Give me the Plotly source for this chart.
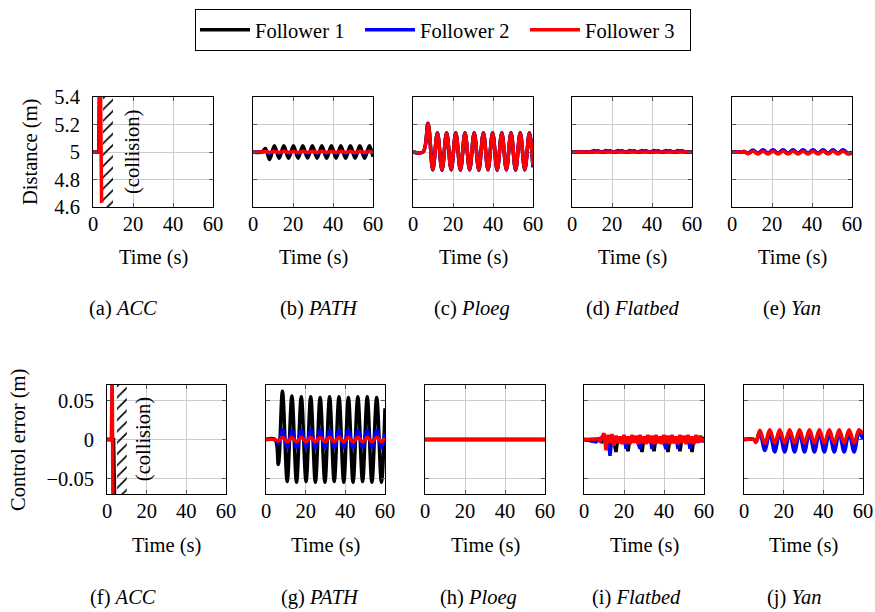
import plotly.graph_objects as go

W, H = 875, 612
FONT = "Liberation Serif, Times New Roman, serif"
FS = 20.5

names = ["Follower 1", "Follower 2", "Follower 3"]
colors = ["#000000", "#0000ff", "#ff0000"]

x_ticks = [0, 20, 40, 60]
dist_ticks = [4.6, 4.8, 5.0, 5.2, 5.4]
err_ticks = [-0.05, 0, 0.05]
collision_start, collision_end = 5, 10

# ---------------- ACC ----------------
acc_dist_t = [[0, 3.0, 3.6], [0, 2.9, 3.4], [0, 1.5, 3.0, 3.6, 4.3]]
acc_dist_v = [[5.0, 5.0, 5.7], [5.0, 5.0, 5.8], [5.0, 5.0, 5.0, 5.7, 4.63]]
acc_err_t = [[0, 3.3, 3.9], [0, 2.4, 2.7], [0, 2.2, 2.6, 3.0]]
acc_err_v = [[0, 0, -0.09], [0, 0, 0.09], [0, 0.0, 0.09, -0.09]]

# ---------------- PATH ----------------
t_path = [0, 4.5, 6.2, 8.3, 10.7, 13.05, 15.4, 17.8, 20.2, 22.55, 24.9, 27.3, 29.7,
          32.05, 34.4, 36.8, 39.2, 41.55, 43.9, 46.3, 48.7, 51.05, 53.4, 55.8, 58.2, 60.0]
path_dist_f1 = [5.0, 5.0, 5.025, 4.945, 5.046, 4.955, 5.045, 4.955, 5.046, 4.955, 5.045, 4.956, 5.045,
                4.955, 5.046, 4.955, 5.045, 4.955, 5.046, 4.955, 5.045, 4.956, 5.045, 4.955, 5.045, 4.965]
path_dist_f2 = [5.0, 5.0, 5.005, 4.99, 5.01, 4.99, 5.01, 4.99, 5.01, 4.99, 5.01, 4.99, 5.01,
                4.99, 5.01, 4.99, 5.01, 4.99, 5.01, 4.99, 5.01, 4.99, 5.01, 4.99, 5.01, 4.993]
path_dist_f3 = [5.0, 5.0, 5.002, 4.997, 5.003, 4.997, 5.003, 4.997, 5.003, 4.997, 5.003, 4.997, 5.003,
                4.997, 5.003, 4.997, 5.003, 4.997, 5.003, 4.997, 5.003, 4.997, 5.003, 4.997, 5.003, 4.998]
path_err_f1 = [0, 0, -0.032, 0.062, -0.054, 0.056, -0.055, 0.055, -0.054, 0.055, -0.055, 0.054, -0.055,
               0.055, -0.054, 0.055, -0.055, 0.054, -0.055, 0.055, -0.054, 0.055, -0.055, 0.054, -0.055, 0.04]
path_err_f2 = [0, 0, -0.006, 0.0125, -0.0105, 0.012, -0.0105, 0.012, -0.0105, 0.012, -0.0105, 0.012, -0.0105,
               0.012, -0.0105, 0.012, -0.0105, 0.012, -0.0105, 0.012, -0.0105, 0.012, -0.0105, 0.012, -0.0105, 0.008]
path_err_f3 = [0, 0, -0.002, 0.003, -0.003, 0.003, -0.003, 0.003, -0.003, 0.003, -0.003, 0.003, -0.003,
               0.003, -0.003, 0.003, -0.003, 0.003, -0.003, 0.003, -0.003, 0.003, -0.003, 0.003, -0.003, 0.002]

# ---------------- Ploeg ----------------
t_ploeg = [0, 5.0, 7.5, 9.9, 12.2, 14.5, 16.8, 19.1, 21.4, 23.7, 26.0, 28.3, 30.6,
           32.9, 35.2, 37.5, 39.8, 42.1, 44.4, 46.7, 49.0, 51.3, 53.6, 55.9, 58.2, 60.0]
ploeg_dist_f1 = [5.0, 5.0, 5.21, 4.87, 5.14, 4.868, 5.14, 4.87, 5.14, 4.868, 5.14, 4.87, 5.14,
                 4.868, 5.14, 4.87, 5.14, 4.868, 5.14, 4.87, 5.14, 4.868, 5.14, 4.87, 5.14, 4.89]
ploeg_dist_f2 = [5.0, 5.0, 5.208, 4.872, 5.138, 4.87, 5.138, 4.872, 5.138, 4.87, 5.138, 4.872, 5.138,
                 4.87, 5.138, 4.872, 5.138, 4.87, 5.138, 4.872, 5.138, 4.87, 5.138, 4.872, 5.138, 4.89]
ploeg_dist_f3 = [5.0, 5.0, 5.205, 4.875, 5.135, 4.874, 5.135, 4.875, 5.135, 4.874, 5.135, 4.875, 5.135,
                 4.874, 5.135, 4.875, 5.135, 4.874, 5.135, 4.875, 5.135, 4.874, 5.135, 4.875, 5.135, 4.9]
t_ploeg_err = [0, 60]
ploeg_err_f1 = [0, 0]
ploeg_err_f2 = [0, 0]
ploeg_err_f3 = [0, 0]

# ---------------- Flatbed ----------------
t_flat_d = [0, 6, 9, 11, 13, 15, 17, 19, 21, 23, 25, 27, 29, 31, 33, 35, 37, 39, 41, 43,
            45, 47, 49, 51, 53, 55, 57, 60]
flat_dist_f1 = [5.0, 5.0, 4.999, 5.0, 5.009, 4.999, 5.0, 5.009, 4.999, 5.0, 5.009, 4.999, 5.0, 5.009,
                4.999, 5.0, 5.009, 4.999, 5.0, 5.009, 4.999, 5.0, 5.009, 4.999, 5.0, 5.009, 4.999, 5.0]
flat_dist_f2 = [5.0, 5.0, 5.001, 5.01, 5.001, 5.0, 5.01, 5.001, 5.0, 5.01, 5.001, 5.0, 5.01, 5.001,
                5.0, 5.01, 5.001, 5.0, 5.01, 5.001, 5.0, 5.01, 5.001, 5.0, 5.01, 5.001, 5.0, 5.0]
flat_dist_f3 = [5.0, 5.0, 5.001, 5.003, 4.998, 5.002, 4.999, 5.002, 4.998, 5.002, 4.999, 5.002, 4.998, 5.002,
                4.999, 5.002, 4.998, 5.002, 4.999, 5.002, 4.998, 5.002, 4.999, 5.002, 4.998, 5.002, 4.999, 5.0]
t_flat = [0, 6, 7, 8, 9, 10, 11, 12, 13, 14, 15, 16, 17, 18, 19, 20, 21, 22, 23, 24, 25, 26, 27,
          28, 29, 30, 31, 32, 33, 34, 35, 36, 37, 38, 39, 40, 41, 42, 43, 44, 45, 46, 47, 48,
          49, 50, 51, 52, 53, 54, 55, 56, 57, 58, 59, 60]
flat_err_f1 = [0, -0.002, 0.0, 0.001, -0.002, 0.003, -0.006, 0.002, -0.012, 0.003, -0.003, -0.016, 0.003,
               -0.002, 0.003, -0.002, 0.002, -0.015, 0.003, -0.002, 0.003, -0.002, 0.002, -0.003, -0.016,
               0.003, -0.002, 0.003, -0.002, 0.002, -0.015, 0.003, -0.002, 0.003, -0.002, 0.002, -0.003,
               -0.016, 0.003, -0.002, 0.003, -0.002, 0.002, -0.015, 0.003, -0.002, 0.003, -0.002, 0.002,
               -0.016, 0.003, -0.002, 0.003, -0.002, 0.002, 0.0]
flat_err_f2 = [0, -0.003, -0.001, 0.001, -0.002, 0.006, -0.008, 0.004, -0.021, 0.003, -0.006, 0.004, -0.004,
               0.003, -0.004, 0.004, -0.012, 0.003, -0.003, 0.004, -0.004, 0.003, -0.004, -0.012, 0.003,
               -0.003, 0.004, -0.004, 0.003, -0.012, 0.004, -0.003, 0.003, -0.004, 0.004, -0.003, -0.012,
               0.003, -0.003, 0.004, -0.004, 0.003, -0.012, 0.004, -0.003, 0.003, -0.004, 0.004, -0.012,
               0.003, -0.003, 0.004, -0.004, 0.003, -0.003, 0.001]
flat_err_f3 = [0, 0.0, 0.001, -0.002, 0.004, 0.008, -0.014, 0.006, -0.004, 0.007, -0.008, 0.005, -0.005,
               0.004, -0.006, 0.006, -0.005, 0.004, -0.006, 0.006, -0.004, 0.005, -0.006, 0.006, -0.005,
               0.004, -0.006, 0.006, -0.004, 0.005, -0.006, 0.006, -0.005, 0.004, -0.006, 0.006, -0.004,
               0.005, -0.006, 0.006, -0.005, 0.004, -0.006, 0.006, -0.004, 0.005, -0.006, 0.006, -0.005,
               0.004, -0.006, 0.006, -0.004, 0.005, -0.003, 0.002]

# ---------------- Yan ----------------
t_yan = [0, 5.0, 6.0, 8.0, 10.5, 13.0, 15.5, 18.0, 20.5, 23.0, 25.5, 28.0, 30.5, 33.0, 35.5,
         38.0, 40.5, 43.0, 45.5, 48.0, 50.5, 53.0, 55.5, 58.0, 60.0]
yan_dist_f1 = [5.0, 5.0, 5.003, 4.99, 5.01, 4.989, 5.011, 4.989, 5.011, 4.989, 5.011, 4.989, 5.011, 4.989,
               5.011, 4.989, 5.011, 4.989, 5.011, 4.989, 5.011, 4.989, 5.011, 4.989, 4.996]
yan_dist_f2 = [5.0, 5.0, 5.003, 4.992, 5.014, 4.991, 5.016, 4.991, 5.016, 4.991, 5.016, 4.991, 5.016, 4.991,
               5.016, 4.991, 5.016, 4.991, 5.016, 4.991, 5.016, 4.991, 5.016, 4.991, 5.0]
yan_dist_f3 = [5.0, 5.0, 5.004, 4.988, 5.005, 4.986, 5.006, 4.986, 5.006, 4.986, 5.006, 4.986, 5.006, 4.986,
               5.006, 4.986, 5.006, 4.986, 5.006, 4.986, 5.006, 4.986, 5.006, 4.986, 4.992]
yan_err_f1 = [0, 0, -0.003, 0.01, -0.009, 0.011, -0.01, 0.011, -0.01, 0.011, -0.01, 0.011, -0.01, 0.011,
              -0.01, 0.011, -0.01, 0.011, -0.01, 0.011, -0.01, 0.011, -0.01, 0.011, 0.003]
yan_err_f2 = [0, 0, -0.003, 0.008, -0.014, 0.009, -0.016, 0.009, -0.016, 0.009, -0.016, 0.009, -0.016, 0.009,
              -0.016, 0.009, -0.016, 0.009, -0.016, 0.009, -0.016, 0.009, -0.016, 0.009, 0.0]
yan_err_f3 = [0, 0, -0.004, 0.012, -0.005, 0.0125, -0.0045, 0.0125, -0.0045, 0.0125, -0.0045, 0.0125, -0.0045,
              0.0125, -0.0045, 0.0125, -0.0045, 0.0125, -0.0045, 0.0125, -0.0045, 0.0125, -0.0045, 0.0125, 0.007]

captions = ["ACC", "PATH", "Ploeg", "Flatbed", "Yan"]
letters_top = ["a", "b", "c", "d", "e"]
letters_bot = ["f", "g", "h", "i", "j"]

top_series = [
    (acc_dist_t, acc_dist_v),
    ([t_path] * 3, [path_dist_f1, path_dist_f2, path_dist_f3]),
    ([t_ploeg] * 3, [ploeg_dist_f1, ploeg_dist_f2, ploeg_dist_f3]),
    ([t_flat_d] * 3, [flat_dist_f1, flat_dist_f2, flat_dist_f3]),
    ([t_yan] * 3, [yan_dist_f1, yan_dist_f2, yan_dist_f3]),
]
bot_series = [
    (acc_err_t, acc_err_v),
    ([t_path] * 3, [path_err_f1, path_err_f2, path_err_f3]),
    ([t_ploeg_err] * 3, [ploeg_err_f1, ploeg_err_f2, ploeg_err_f3]),
    ([t_flat] * 3, [flat_err_f1, flat_err_f2, flat_err_f3]),
    ([t_yan] * 3, [yan_err_f1, yan_err_f2, yan_err_f3]),
]

# ---------------- layout geometry (pixels) ----------------
top_x = [(93, 213), (253, 373), (413, 533), (572, 692), (732, 852)]
bot_x = [(107, 226), (266, 385), (425, 545), (584, 704), (744, 863)]
top_y = (97, 207)
bot_y = (385, 494)
top_cap_x = [123, 319, 472, 633, 792]
bot_cap_x = [123, 320, 479, 636, 794]
collision_label_t = [19.5, 18.5]

fig = go.Figure()
layout = dict(
    width=W, height=H, margin=dict(l=0, r=0, t=0, b=0, autoexpand=False),
    paper_bgcolor="white", plot_bgcolor="white",
    font=dict(family=FONT, size=FS, color="black"),
    showlegend=True,
    legend=dict(orientation="h", x=195 / W, xanchor="left", y=1 - 9 / H, yanchor="top",
                bordercolor="black", borderwidth=1, bgcolor="white",
                font=dict(family=FONT, size=FS, color="black"),
                itemwidth=50, entrywidth=100),
)
annotations = []


def px_x(p):
    return p / W


def px_y(p):
    return 1 - p / H


def axis_common():
    return dict(showgrid=True, gridcolor="#cccccc", gridwidth=1, showline=True,
                linecolor="black", linewidth=1, mirror="ticks", ticks="inside",
                ticklen=4, tickcolor="#555555", zeroline=False, fixedrange=True,
                tickfont=dict(family=FONT, size=FS, color="black"))


k = 0
for row in range(2):
    xs = top_x if row == 0 else bot_x
    ys = top_y if row == 0 else bot_y
    series = top_series if row == 0 else bot_series
    for col in range(5):
        k += 1
        xn = "xaxis" if k == 1 else f"xaxis{k}"
        yn = "yaxis" if k == 1 else f"yaxis{k}"
        xr = "x" if k == 1 else f"x{k}"
        yr = "y" if k == 1 else f"y{k}"
        xa = axis_common()
        xa.update(domain=[px_x(xs[col][0]), px_x(xs[col][1])], anchor=yr, range=[0, 60],
                  tickvals=x_ticks, ticklabelstandoff=-2)
        ya = axis_common()
        if row == 0:
            ya.update(range=[4.6, 5.4], tickvals=dist_ticks)
        else:
            ya.update(range=[-0.07, 0.07], tickvals=err_ticks)
        ya.update(domain=[px_y(ys[1]), px_y(ys[0])], anchor=xr,
                  showticklabels=(col == 0), ticklabelstandoff=8)
        layout[xn] = xa
        layout[yn] = ya

        if col == 0:
            y0, y1 = ya["range"]
            fig.add_trace(go.Scatter(
                x=[collision_start, collision_end, collision_end, collision_start, collision_start],
                y=[y0, y0, y1, y1, y0], xaxis=xr, yaxis=yr, mode="lines",
                line=dict(width=0), fill="toself", fillcolor="rgba(0,0,0,0)",
                fillpattern=dict(shape="/", fgcolor="black", fgopacity=1,
                                 bgcolor="rgba(0,0,0,0)", size=8, solidity=0.2),
                showlegend=False, hoverinfo="skip"))
            annotations.append(dict(text="(collision)", x=collision_label_t[row], y=(y0 + y1) / 2,
                                    xref=xr, yref=yr, textangle=-90, showarrow=False,
                                    font=dict(family=FONT, size=FS, color="black")))

        ts, vs = series[col]
        for i in range(3):
            fig.add_trace(go.Scatter(
                x=ts[i], y=vs[i], xaxis=xr, yaxis=yr, mode="lines", name=names[i],
                line=dict(color=colors[i], width=3.5, shape="spline" if col in (1, 2, 4) else "linear"),
                showlegend=(k == 1), legendgroup=names[i], hoverinfo="skip"))

        cx = (xs[col][0] + xs[col][1]) / 2
        annotations.append(dict(text="Time (s)", x=px_x(cx), y=px_y(257 if row == 0 else 545),
                                xref="paper", yref="paper", showarrow=False,
                                xanchor="center", yanchor="middle"))
        capx = top_cap_x[col] if row == 0 else bot_cap_x[col]
        letter = letters_top[col] if row == 0 else letters_bot[col]
        annotations.append(dict(text=f"({letter}) <i>{captions[col]}</i>", x=px_x(capx),
                                y=px_y(308 if row == 0 else 597), xref="paper", yref="paper",
                                showarrow=False, xanchor="center", yanchor="middle"))

annotations.append(dict(text="Distance (m)", x=px_x(30), y=px_y(152), xref="paper", yref="paper",
                        textangle=-90, showarrow=False, xanchor="center", yanchor="middle"))
annotations.append(dict(text="Control error (m)", x=px_x(18), y=px_y(440), xref="paper", yref="paper",
                        textangle=-90, showarrow=False, xanchor="center", yanchor="middle"))
layout["annotations"] = annotations
fig.update_layout(**layout)
fig.write_html("out.html")
